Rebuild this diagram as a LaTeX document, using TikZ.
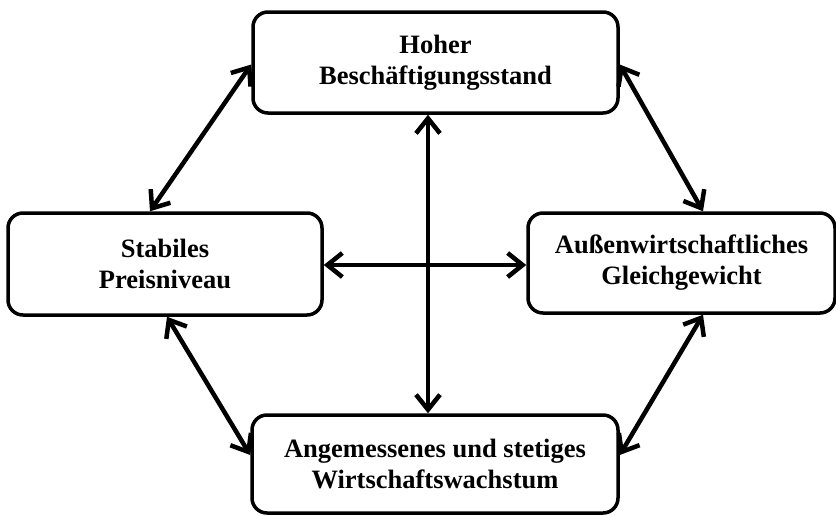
\documentclass[tikz,border=0pt]{standalone}
\usepackage{fontspec}
\setmainfont{Liberation Serif}
\usetikzlibrary{arrows.meta}
\begin{document}
\begin{tikzpicture}[x=1pt,y=-1pt,
  goalbox/.style={draw=black, line width=3.5pt, rounded corners=15pt, fill=white,
    align=center, inner sep=0pt,
    font=\fontsize{26.5}{31}\selectfont\bfseries},
  link/.style={line width=4.5pt, {Straight Barb[length=15pt,width=24pt]}-{Straight Barb[length=15pt,width=24pt]}}]
\useasboundingbox (0,0) rectangle (836,515);
\node[goalbox, minimum width=365pt, minimum height=101pt] (T) at (435.5,62.5) {Hoher\\Beschäftigungsstand};
\node[goalbox, minimum width=314pt, minimum height=102pt] (L) at (165,264) {Stabiles\\Preisniveau};
\node[goalbox, minimum width=307pt, minimum height=100pt] (R) at (681.5,263) {Außenwirtschaftliches\\Gleichgewicht};
\node[goalbox, minimum width=366pt, minimum height=98pt] (B) at (435,464) {Angemessenes und stetiges\\Wirtschaftswachstum};
\draw[link] ([xshift=-15pt]L.north) -- ([yshift=-2pt]T.west);
\draw[link] ([yshift=-2pt]T.east) -- ([xshift=21.5pt]R.north);
\draw[link] ([xshift=-7.5pt]T.south) -- ([xshift=-7pt]B.north);
\draw[link] ([yshift=-1pt]L.east) -- ([yshift=-1pt]L.east -| R.west);
\draw[link] ([xshift=2pt]L.south) -- ([yshift=9pt]B.west);
\draw[link] ([xshift=21.5pt]R.south) -- ([yshift=9pt]B.east);
\end{tikzpicture}
\end{document}
